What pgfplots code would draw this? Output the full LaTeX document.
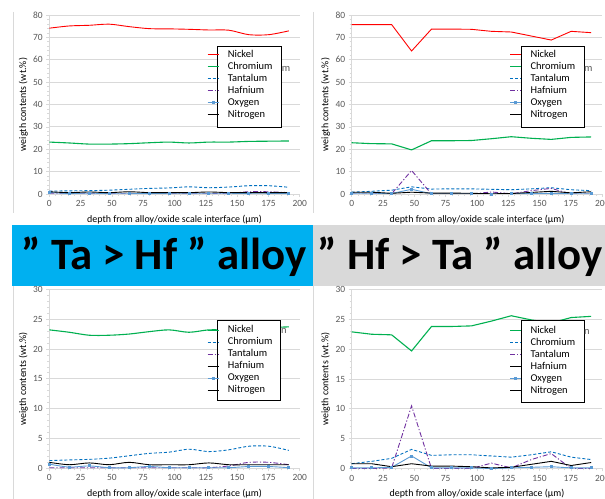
\documentclass[border=0pt]{standalone}
\usepackage{pgfplots}
\pgfplotsset{compat=1.18}
\usepackage{pgfplotstable}
\usepackage{fontspec}
\setmainfont{Carlito}
\definecolor{nic}{HTML}{FF0000}
\definecolor{chr}{HTML}{00B050}
\definecolor{tan}{HTML}{0070C0}
\definecolor{haf}{HTML}{7030A0}
\definecolor{oxy}{HTML}{5B9BD5}
\definecolor{gridc}{HTML}{D9D9D9}
\definecolor{labc}{HTML}{595959}
\definecolor{bblue}{HTML}{00B0F0}
\definecolor{bgrey}{HTML}{D9D9D9}

\pgfplotstableread{
x Ni Cr Ta Hf O N
0 74.1 23.2 1.3 0.1 0.7 1.0
15.9 75.1 22.8 1.4 0.1 0.2 0.6
31.9 75.4 22.3 1.5 0.1 0.4 0.9
47.8 75.9 22.3 1.7 0.1 0.1 0.6
63.7 74.8 22.5 2.1 0.1 0.1 1.0
79.7 73.9 22.9 2.5 0.1 0.3 0.6
95.6 73.8 23.2 2.7 0.1 0.1 0.6
111.5 73.6 22.8 3.2 0.1 0.1 0.6
127.4 73.3 23.2 2.8 0.1 0.1 0.9
143.4 73.2 23.2 3.1 0.4 0.1 0.6
159.3 71.2 23.5 3.7 1.0 0.3 0.6
175.2 71.2 23.6 3.7 1.0 0.3 0.6
191.2 72.9 23.7 3.0 0.6 0.1 0.6
}\taHf

\pgfplotstableread{
x Ni Cr Ta Hf O N
0 75.7 22.9 0.8 0.0 0.1 0.8
15.9 75.7 22.5 1.2 0.0 0.1 0.8
31.9 75.7 22.4 1.7 0.1 0.2 0.3
47.8 63.9 19.7 3.2 10.5 2.1 0.8
63.7 73.7 23.8 2.2 0.0 0.1 0.4
79.7 73.7 23.8 2.3 0.0 0.1 0.4
95.6 73.6 23.9 2.3 0.0 0.1 0.3
111.5 72.7 24.7 2.1 0.9 0.0 0.1
127.4 72.4 25.6 1.9 0.1 0.1 0.2
143.4 70.6 24.9 2.3 1.5 0.2 0.7
159.3 68.8 24.4 2.8 2.5 0.3 1.2
175.2 72.7 25.3 1.9 0.0 0.1 0.5
191.2 72.1 25.5 1.5 0.0 0.1 1.0
}\hfTa

\newcommand{\lgap}{\hspace*{8.7bp}}

\pgfplotsset{
  panel/.style={
    scale only axis, width=250.5bp, height=179bp,
    xmin=0, xmax=200, xtick={0,25,...,200}, minor x tick num=4,
    axis x line*=bottom, axis y line*=left,
    axis line style={draw=gridc, line width=0.7bp},
    every tick/.style={draw=gridc, line width=0.7bp},
    tick align=outside, major tick length=3bp, minor tick length=2bp,
    ymajorgrids, major grid style={draw=gridc, line width=0.8bp},
    ticklabel style={font=\fontsize{9.5}{11}\selectfont, text=labc},
    /pgf/number format/assume math mode=true,
    label style={font=\fontsize{9}{11}\selectfont, text=labc},
    xlabel={depth from alloy/oxide scale interface (µm)},
    ylabel={weigth contents (wt.\%)},
    every axis x label/.style={at={(axis description cs:0.5,-0.142)}, anchor=center},
    every axis y label/.style={at={(axis description cs:-0.104,0.5)}, rotate=90, anchor=center},
    legend cell align=left,
    legend image code/.code={\draw[mark repeat=2,mark phase=2,#1] plot coordinates {(0bp,0bp) (5.5bp,0bp) (11bp,0bp)};},
    legend style={draw=none, fill=none, anchor=north west, inner sep=0pt,
      font=\fontsize{10.5}{12}\selectfont,
      nodes={inner sep=0pt, text height=8bp, text depth=2.5bp},
      row sep=1.5bp},
  },
  sNi/.style={color=nic, line width=0.9bp, no markers},
  sCr/.style={color=chr, line width=1.1bp, no markers},
  sTa/.style={color=tan, line width=0.9bp, dash pattern=on 3bp off 2bp, no markers},
  sHf/.style={color=haf, line width=0.9bp, dash pattern=on 5bp off 2bp on 1.2bp off 2bp, no markers},
  sO/.style={color=oxy, line width=0.9bp, mark=square*, mark size=1bp, mark options={solid}},
  sN/.style={color=black, line width=0.9bp, no markers},
}

\begin{document}
\begin{tikzpicture}[x=1bp,y=1bp]
\path[use as bounding box] (0,0) rectangle (605,499);
\fill[white] (0,0) rectangle (605,499);
% banners
\fill[bblue] (12.3,213.3) rectangle (313,274);
\fill[bgrey] (313,213.3) rectangle (605,274);
\node[anchor=base, inner sep=0pt, font=\fontsize{45}{50}\selectfont\bfseries] at (164,229) {” Ta > Hf ” alloy};
\node[anchor=base, inner sep=0pt, font=\fontsize{45}{50}\selectfont\bfseries] at (460,229) {” Hf > Ta ” alloy};
% panel borders
\draw[gridc, line width=0.7bp] (13,487) -- (13,286);
\draw[gridc, line width=0.7bp] (13,213) -- (13,0);
\draw[gridc, line width=0.7bp] (313.3,487) -- (313.3,286);
\draw[gridc, line width=0.7bp] (313.3,213) -- (313.3,0);

% ---------- top left ----------
\begin{axis}[panel, at={(49.3bp,305bp)}, anchor=south west,
  ymin=0, ymax=80, ytick={0,10,...,80}, minor y tick num=4,
  legend style={at={(0.629,0.81)}}]
\addplot[sNi, smooth] table[x=x,y=Ni] {\taHf};
\addplot[sCr, smooth] table[x=x,y=Cr] {\taHf};
\addplot[sTa, smooth] table[x=x,y=Ta] {\taHf};
\addplot[sHf, smooth] table[x=x,y=Hf] {\taHf};
\addplot[sO, smooth] table[x=x,y=O] {\taHf};
\addplot[sN, smooth] table[x=x,y=N] {\taHf};
\draw[black, line width=0.8bp, fill=white] (axis cs:134.6,66.1) rectangle (axis cs:185.6,29.9);
\node[anchor=west, inner sep=0pt, text=labc, font=\fontsize{10.5}{12}\selectfont] at (axis cs:185.6,55.9) {m};
\legend{\lgap Nickel,\lgap Chromium,\lgap Tantalum,\lgap Hafnium,\lgap Oxygen,\lgap Nitrogen}
\end{axis}

% ---------- top right ----------
\begin{axis}[panel, at={(351.7bp,305bp)}, anchor=south west,
  ymin=0, ymax=80, ytick={0,10,...,80}, minor y tick num=4,
  legend style={at={(0.63,0.81)}}]
\addplot[sNi] table[x=x,y=Ni] {\hfTa};
\addplot[sCr] table[x=x,y=Cr] {\hfTa};
\addplot[sTa] table[x=x,y=Ta] {\hfTa};
\addplot[sHf] table[x=x,y=Hf] {\hfTa};
\addplot[sO] table[x=x,y=O] {\hfTa};
\addplot[sN] table[x=x,y=N] {\hfTa};
\draw[black, line width=0.8bp, fill=white] (axis cs:135.3,66.1) rectangle (axis cs:185.4,29.9);
\node[anchor=west, inner sep=0pt, text=labc, font=\fontsize{10.5}{12}\selectfont] at (axis cs:185.4,55.9) {m};
\legend{\lgap Nickel,\lgap Chromium,\lgap Tantalum,\lgap Hafnium,\lgap Oxygen,\lgap Nitrogen}
\end{axis}

% ---------- bottom left ----------
\begin{axis}[panel, at={(49.3bp,30.7bp)}, anchor=south west,
  ymin=0, ymax=30, ytick={0,5,...,30}, minor y tick num=4,
  legend style={at={(0.629,0.802)}}]
\addplot[sCr, smooth, forget plot] table[x=x,y=Cr] {\taHf};
\addplot[sTa, smooth, forget plot] table[x=x,y=Ta] {\taHf};
\addplot[sHf, smooth, forget plot] table[x=x,y=Hf] {\taHf};
\addplot[sO, smooth, forget plot] table[x=x,y=O] {\taHf};
\addplot[sN, smooth, forget plot] table[x=x,y=N] {\taHf};
\addlegendimage{sCr}\addlegendentry{\lgap Nickel}
\addlegendimage{sTa}\addlegendentry{\lgap Chromium}
\addlegendimage{sHf}\addlegendentry{\lgap Tantalum}
\addlegendimage{draw=none}\addlegendentry{\lgap Hafnium}
\addlegendimage{sO}\addlegendentry{\lgap Oxygen}
\addlegendimage{sN}\addlegendentry{\lgap Nitrogen}
\draw[black, line width=0.8bp, fill=white] (axis cs:134.6,24.8) rectangle (axis cs:184.9,11.3);
\node[anchor=west, inner sep=0pt, text=labc, font=\fontsize{10.5}{12}\selectfont] at (axis cs:184.9,23.06) {n};
\end{axis}

% ---------- bottom right ----------
\begin{axis}[panel, at={(351.7bp,30.5bp)}, anchor=south west,
  ymin=0, ymax=30, ytick={0,5,...,30}, minor y tick num=4,
  legend style={at={(0.63,0.802)}}]
\addplot[sCr, forget plot] table[x=x,y=Cr] {\hfTa};
\addplot[sTa, forget plot] table[x=x,y=Ta] {\hfTa};
\addplot[sHf, forget plot] table[x=x,y=Hf] {\hfTa};
\addplot[sO, forget plot] table[x=x,y=O] {\hfTa};
\addplot[sN, forget plot] table[x=x,y=N] {\hfTa};
\addlegendimage{sCr}\addlegendentry{\lgap Nickel}
\addlegendimage{sTa}\addlegendentry{\lgap Chromium}
\addlegendimage{sHf}\addlegendentry{\lgap Tantalum}
\addlegendimage{draw=none}\addlegendentry{\lgap Hafnium}
\addlegendimage{sO}\addlegendentry{\lgap Oxygen}
\addlegendimage{sN}\addlegendentry{\lgap Nitrogen}
\draw[black, line width=0.8bp, fill=white] (axis cs:135.8,24.9) rectangle (axis cs:185.4,11.1);
\node[anchor=west, inner sep=0pt, text=labc, font=\fontsize{10.5}{12}\selectfont] at (axis cs:185.4,22.9) {n};
\end{axis}
\end{tikzpicture}
\end{document}
